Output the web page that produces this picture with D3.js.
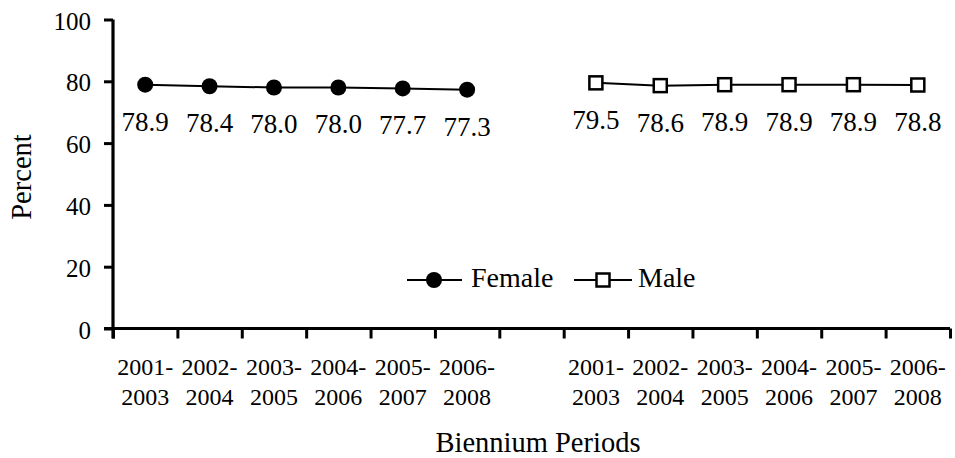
<!DOCTYPE html>
<html>
<head>
<meta charset="utf-8">
<script src="https://cdn.jsdelivr.net/npm/d3@7"></script>
<style>
  html, body { margin: 0; padding: 0; background: #fff; }
  svg { display: block; }
</style>
</head>
<body>
<svg id="chart" width="955" height="458"></svg>
<script>
// Biennium periods shown for each sex
const periods = ["2001-2003", "2002-2004", "2003-2005", "2004-2006", "2005-2007", "2006-2008"];
const femaleValues = [78.9, 78.4, 78.0, 78.0, 77.7, 77.3];
const maleValues = [79.5, 78.6, 78.9, 78.9, 78.9, 78.8];
const yTicks = [0, 20, 40, 60, 80, 100];

const FONT = "Liberation Serif";
const svg = d3.select("#chart").attr("font-family", FONT);
const plotLeft = 113, plotRight = 950, plotTop = 19.5, plotBottom = 328.5;

// 13 slots: six female periods, one empty slot, six male periods
const slots = [
  ...periods.map(p => "F|" + p),
  "gap",
  ...periods.map(p => "M|" + p)
];
const x = d3.scaleBand().domain(slots).range([plotLeft, plotRight]).paddingInner(0).paddingOuter(0);
const xEdge = d3.scaleLinear().domain([0, slots.length]).range([plotLeft, plotRight]);
const y = d3.scaleLinear().domain([0, 100]).range([plotBottom, plotTop]);

const female = periods.map((p, i) => ({ key: "F|" + p, v: femaleValues[i] }));
const male = periods.map((p, i) => ({ key: "M|" + p, v: maleValues[i] }));
const cx = d => x(d.key) + x.bandwidth() / 2;

// X axis: tick marks at slot boundaries
const xAxis = svg.append("g").attr("transform", `translate(0,${plotBottom})`)
  .call(d3.axisBottom(xEdge).tickValues(d3.range(0, slots.length + 1)).tickSize(10).tickSizeOuter(0).tickFormat(""));
xAxis.select(".domain").attr("stroke", "#000").attr("stroke-width", 3.2).attr("d", `M${plotLeft - 9},0H${plotRight}`);
xAxis.selectAll(".tick line").attr("stroke", "#000").attr("stroke-width", 3);

// X category labels, two lines each
const labelG = svg.append("g");
[...female, ...male].forEach(d => {
  const [a, b] = d.key.slice(2).split("-");
  const t = labelG.append("text")
    .attr("text-anchor", "middle")
    .attr("font-family", FONT)
    .attr("font-size", 24)
    .attr("fill", "#000");
  t.append("tspan").attr("x", cx(d)).attr("y", 375).text(a + "-");
  t.append("tspan").attr("x", cx(d)).attr("y", 405).text(b);
});

// Y axis
const yAxis = svg.append("g").attr("transform", `translate(${plotLeft},0)`)
  .call(d3.axisLeft(y).tickValues(yTicks).tickSize(9).tickSizeOuter(0).tickPadding(13));
yAxis.attr("font-family", FONT);
yAxis.select(".domain").attr("stroke", "#000").attr("stroke-width", 3.2).attr("d", `M0,${plotTop}V${plotBottom + 10}`);
yAxis.selectAll(".tick line").attr("stroke", "#000").attr("stroke-width", 3);
yAxis.selectAll(".tick text").attr("font-size", 25).attr("fill", "#000")
  .attr("font-family", FONT).attr("dy", "0.38em");

// Axis titles
svg.append("text")
  .attr("transform", `translate(31,177) rotate(-90)`)
  .attr("text-anchor", "middle").attr("font-family", FONT).attr("font-size", 28.5).attr("fill", "#000")
  .text("Percent");
svg.append("text")
  .attr("x", 538).attr("y", 452)
  .attr("text-anchor", "middle").attr("font-family", FONT).attr("font-size", 28.5).attr("fill", "#000")
  .text("Biennium Periods");

const line = d3.line().x(cx).y(d => y(d.v));

// Female series
svg.append("path").datum(female).attr("d", line)
  .attr("fill", "none").attr("stroke", "#000").attr("stroke-width", 2);
svg.append("g").selectAll("circle").data(female).join("circle")
  .attr("cx", cx).attr("cy", d => y(d.v)).attr("r", 8).attr("fill", "#000");

// Male series
const sq = 13;
svg.append("path").datum(male).attr("d", line)
  .attr("fill", "none").attr("stroke", "#000").attr("stroke-width", 2);
svg.append("g").selectAll("rect").data(male).join("rect")
  .attr("x", d => cx(d) - sq / 2).attr("y", d => y(d.v) - sq / 2)
  .attr("width", sq).attr("height", sq)
  .attr("fill", "#fff").attr("stroke", "#000").attr("stroke-width", 2.5);

// Value labels below each point
svg.append("g").selectAll("text").data([...female, ...male]).join("text")
  .attr("x", cx).attr("y", d => y(d.v) + 46)
  .attr("text-anchor", "middle").attr("font-family", FONT).attr("font-size", 27).attr("fill", "#000")
  .text(d => d.v.toFixed(1));

// Legend
const lg = svg.append("g");
const ly = 280;
lg.append("line").attr("x1", 407).attr("x2", 462).attr("y1", ly).attr("y2", ly)
  .attr("stroke", "#000").attr("stroke-width", 2);
lg.append("circle").attr("cx", 434).attr("cy", ly).attr("r", 8).attr("fill", "#000");
lg.append("text").attr("x", 471).attr("y", 287).attr("font-family", FONT).attr("font-size", 28).attr("fill", "#000").text("Female");
lg.append("line").attr("x1", 574).attr("x2", 632).attr("y1", ly).attr("y2", ly)
  .attr("stroke", "#000").attr("stroke-width", 2);
lg.append("rect").attr("x", 603 - sq / 2).attr("y", ly - sq / 2).attr("width", sq).attr("height", sq)
  .attr("fill", "#fff").attr("stroke", "#000").attr("stroke-width", 2.5);
lg.append("text").attr("x", 638).attr("y", 287).attr("font-family", FONT).attr("font-size", 28).attr("fill", "#000").text("Male");
</script>
</body>
</html>
